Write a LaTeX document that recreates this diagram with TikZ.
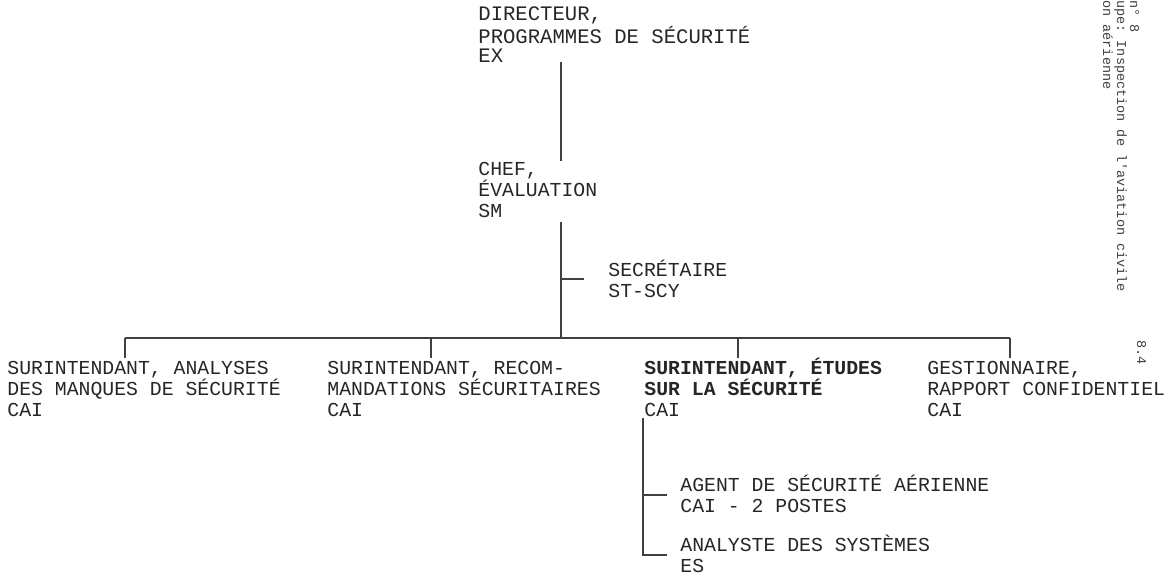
\documentclass[tikz,border=0pt]{standalone}
\usepackage{fontspec}
\setmonofont{Liberation Mono}
\newcommand\mystrut{\rule{0pt}{10pt}}
\begin{document}
\begin{tikzpicture}[x=0.5pt,y=-0.5pt,
  lbl/.style={anchor=north west, inner sep=0pt, align=left, text=black!85,
    font=\ttfamily\fontsize{9.9}{10.5}\selectfont},
  lbltop/.style={lbl, font=\ttfamily\fontsize{10.3}{9.8}\selectfont},
  lblbold/.style={lbl, font=\ttfamily\bfseries\fontsize{9.9}{10.5}\selectfont},
  margin/.style={rotate=-90, anchor=base west, inner sep=0pt, text=black!75,
    font=\ttfamily\fontsize{6.75}{7}\selectfont},
  conn/.style={draw=black!75, line width=0.65pt}]
\useasboundingbox (0,0) rectangle (1173,577);

% text blocks
\node[lbltop] (dir) at (478,0) {\mystrut DIRECTEUR,\\PROGRAMMES DE SÉCURITÉ\\EX};
\node[lbl] (chef) at (478,155) {\mystrut CHEF,\\ÉVALUATION\\SM};
\node[lbl] (sec) at (608,256) {\mystrut SECRÉTAIRE\\ST-SCY};
\node[lbl] (s1) at (7,354) {\mystrut SURINTENDANT, ANALYSES\\DES MANQUES DE SÉCURITÉ\\CAI};
\node[lbl] (s2) at (327,354) {\mystrut SURINTENDANT, RECOM-\\MANDATIONS SÉCURITAIRES\\CAI};
\node[lblbold] (s3) at (644,354) {\mystrut SURINTENDANT, ÉTUDES\\SUR LA SÉCURITÉ\\\mdseries CAI};
\node[lbl] (s4) at (927,354) {\mystrut GESTIONNAIRE,\\RAPPORT CONFIDENTIEL\\CAI};
\node[lbl] (agent) at (680,471) {\mystrut AGENT DE SÉCURITÉ AÉRIENNE\\CAI - 2 POSTES};
\node[lbl] (analyste) at (680,531) {\mystrut ANALYSTE DES SYSTÈMES\\ES};

% margin texts (rotated)
\node[margin] (m1) at (1103,0) {on aérienne};
\node[margin] (m2) at (1117,0) {upe:  Inspection de l'aviation civile};
\node[margin] (m3) at (1130,0) {n° 8};
\node[margin] (m4) at (1137,340) {8.4};

% junction coordinates
\coordinate (dirout) at (561,62);
\coordinate (chefin) at (561,161);
\coordinate (chefout) at (561,222);
\coordinate (secj) at (561,279);
\coordinate (secin) at (584,279);
\coordinate (busc) at (561,338);
\coordinate (busl) at (125,338);
\coordinate (busr) at (1010,338);
\coordinate (b2) at (431,338);
\coordinate (b3) at (738,338);
\coordinate (s1in) at (125,358);
\coordinate (s2in) at (431,358);
\coordinate (s3in) at (738,358);
\coordinate (s4in) at (1010,358);
\coordinate (s3out) at (643,418);
\coordinate (agj) at (643,495);
\coordinate (agin) at (667,495);
\coordinate (anj) at (643,555);
\coordinate (anin) at (667,555);

% connectors
\draw[conn] (dirout) -- (chefin);
\draw[conn] (chefout) -- (busc);
\draw[conn] (secj) -- (secin);
\draw[conn] (busl) -- (busr);
\draw[conn] (busl) -- (s1in);
\draw[conn] (b2) -- (s2in);
\draw[conn] (b3) -- (s3in);
\draw[conn] (busr) -- (s4in);
\draw[conn] (s3out) -- (anj) -- (anin);
\draw[conn] (agj) -- (agin);
\end{tikzpicture}
\end{document}
